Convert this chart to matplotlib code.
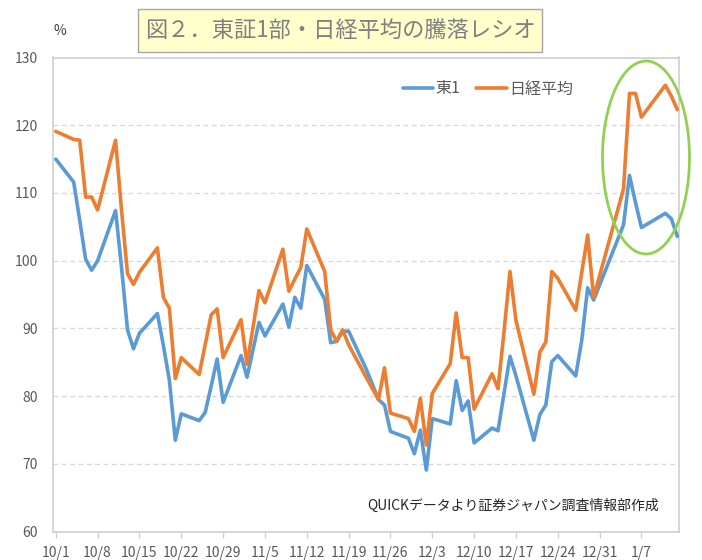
import matplotlib
matplotlib.use("Agg")
import matplotlib.pyplot as plt
from matplotlib.patches import Ellipse, Rectangle
import pandas as pd

plt.rcParams['font.family'] = ['Noto Sans CJK JP', 'DejaVu Sans']

# ---- data (trading days, Oct 2021 - Jan 2022) ----
dates = [
    "2021-10-01", "2021-10-04", "2021-10-05", "2021-10-06", "2021-10-07", "2021-10-08",
    "2021-10-11", "2021-10-12", "2021-10-13", "2021-10-14", "2021-10-15",
    "2021-10-18", "2021-10-19", "2021-10-20", "2021-10-21", "2021-10-22",
    "2021-10-25", "2021-10-26", "2021-10-27", "2021-10-28", "2021-10-29",
    "2021-11-01", "2021-11-02", "2021-11-04", "2021-11-05",
    "2021-11-08", "2021-11-09", "2021-11-10", "2021-11-11", "2021-11-12",
    "2021-11-15", "2021-11-16", "2021-11-17", "2021-11-18", "2021-11-19",
    "2021-11-22", "2021-11-24", "2021-11-25", "2021-11-26",
    "2021-11-29", "2021-11-30", "2021-12-01", "2021-12-02", "2021-12-03",
    "2021-12-06", "2021-12-07", "2021-12-08", "2021-12-09", "2021-12-10",
    "2021-12-13", "2021-12-14", "2021-12-15", "2021-12-16", "2021-12-17",
    "2021-12-20", "2021-12-21", "2021-12-22", "2021-12-23", "2021-12-24",
    "2021-12-27", "2021-12-28", "2021-12-29", "2021-12-30",
    "2022-01-04", "2022-01-05", "2022-01-06", "2022-01-07",
    "2022-01-11", "2022-01-12", "2022-01-13",
]

tse1 = [
    115.0, 111.6, 106.0, 100.2, 98.6, 100.0,
    107.4, 99.0, 89.8, 87.0, 89.3,
    92.2, 87.5, 82.4, 73.5, 77.4,
    76.4, 77.6, 81.5, 85.5, 79.1,
    86.0, 82.8, 90.9, 88.9,
    93.6, 90.2, 94.6, 93.0, 99.3,
    94.3, 87.9, 88.1, 89.6, 89.6,
    83.9, 79.5, 78.7, 74.8,
    73.8, 71.5, 75.0, 69.1, 76.7,
    75.9, 82.3, 77.9, 79.3, 73.1,
    75.3, 74.9, 80.4, 85.9, 83.0,
    73.5, 77.3, 78.7, 85.1, 86.0,
    83.0, 88.2, 96.0, 94.2,
    105.3, 112.6, 108.6, 104.9,
    107.0, 106.2, 103.6,
]

nikkei = [
    119.1, 117.9, 117.8, 109.4, 109.4, 107.5,
    117.8, 107.5, 98.1, 96.5, 98.3,
    101.9, 94.6, 93.0, 82.6, 85.7,
    83.2, 87.6, 92.0, 92.9, 85.7,
    91.3, 84.7, 95.6, 93.8,
    101.7, 95.5, 97.3, 99.0, 104.7,
    98.4, 89.8, 88.1, 89.8, 87.6,
    82.7, 79.5, 84.2, 77.5,
    76.7, 74.8, 79.7, 72.8, 80.4,
    84.8, 92.3, 85.7, 85.7, 78.1,
    83.3, 81.1, 89.5, 98.4, 91.2,
    80.3, 86.5, 88.0, 98.4, 97.4,
    92.7, 98.2, 103.8, 94.6,
    110.6, 124.7, 124.7, 121.2,
    125.9, 124.3, 122.3,
]

series_names = ["東1", "日経平均"]
tick_dates = pd.date_range("2021-10-01", periods=15, freq="7D")
tick_labels = [f"{d.month}/{d.day}" for d in tick_dates]
y_ticks = [60, 70, 80, 90, 100, 110, 120, 130]

title_text = "図２．東証1部・日経平均の騰落レシオ"
source_text = "QUICKデータより証券ジャパン調査情報部作成"

# ---- figure ----
W, H = 702, 560
fig = plt.figure(figsize=(W / 100, H / 100), dpi=100)
fig.patch.set_facecolor("white")

left, right, top, bottom = 53.3, 679.3, 57.5, 531.7
ax = fig.add_axes([left / W, 1 - bottom / H, (right - left) / W, (bottom - top) / H])

x = pd.to_datetime(dates)
blue = "#5B9BD5"
orange = "#ED7D31"
ax.plot(x, tse1, color=blue, lw=2.6, solid_joinstyle="round", solid_capstyle="round",
        label=series_names[0], zorder=3)
ax.plot(x, nikkei, color=orange, lw=2.6, solid_joinstyle="round", solid_capstyle="round",
        label=series_names[1], zorder=4)

ax.set_ylim(60, 130)
ax.set_yticks(y_ticks)
ax.set_xlim(x[0] - pd.Timedelta(hours=10), x[-1] + pd.Timedelta(hours=8))
ax.set_xticks(tick_dates)
ax.set_xticklabels(tick_labels)

ax.grid(axis="y", color="#D9D9D9", lw=1.0, linestyle=(0, (3.5, 2.5)))
ax.set_axisbelow(True)
for s in ax.spines.values():
    s.set_color("#CFCFCF")
    s.set_linewidth(1.2)

ax.tick_params(axis="y", length=0, pad=11, labelsize=10, labelcolor="#595959")
ax.tick_params(axis="x", length=4, width=1, color="#CFCFCF", pad=6.5,
               labelsize=10, labelcolor="#595959")

leg = ax.legend(loc="center", bbox_to_anchor=(488 / W, 1 - 89 / H),
                bbox_transform=fig.transFigure, ncol=2, frameon=False,
                fontsize=11.5, handlelength=1.9, handletextpad=0.15,
                columnspacing=1.0, borderpad=0)
for t in leg.get_texts():
    t.set_color("#595959")

# title box
fig.patches.append(Rectangle((138.3 / W, 1 - 51.7 / H), (542 - 138.3) / W, (51.7 - 9) / H,
                             transform=fig.transFigure, facecolor="#FFFFCC",
                             edgecolor="#A6A6A6", lw=1.0, zorder=1))
fig.text(340 / W, 1 - 30.5 / H, title_text, ha="center", va="center",
         fontsize=16, color="#7F7F7F", zorder=2)

fig.text(60 / W, 1 - 31 / H, "%", ha="center", va="center", fontsize=10, color="#404040")

fig.text(513.5 / W, 1 - 506 / H, source_text, ha="center", va="center",
         fontsize=10, color="#262626")

# highlight ellipse
fig.patches.append(Ellipse((646 / W, 1 - 157.5 / H), 87 / W, 193 / H,
                           transform=fig.transFigure, fill=False,
                           edgecolor="#92D050", lw=2.0, zorder=10))

fig.savefig("out.png", dpi=100)
